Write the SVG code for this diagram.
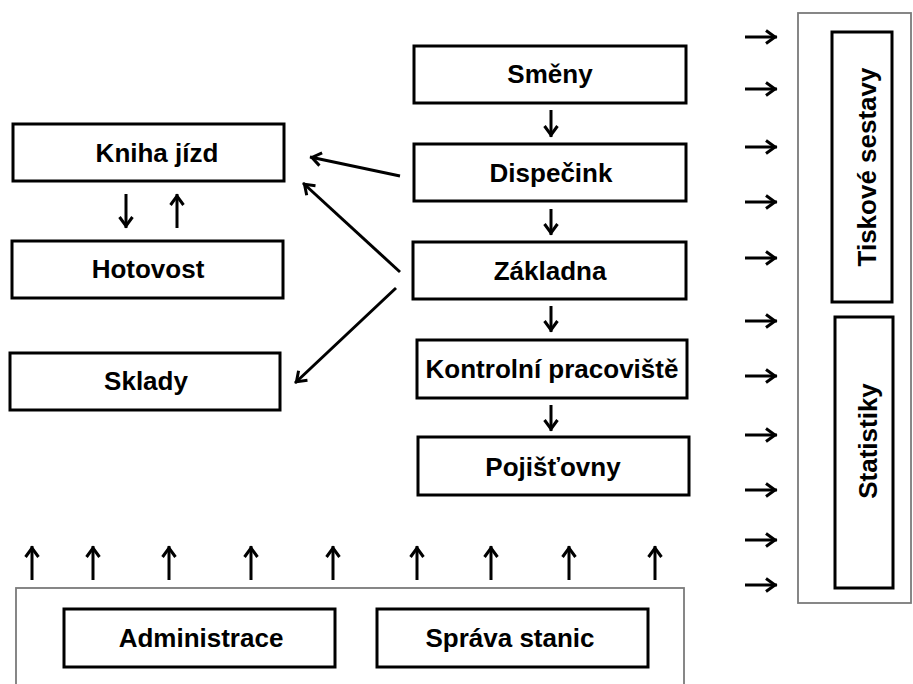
<svg xmlns="http://www.w3.org/2000/svg" width="913" height="684" viewBox="0 0 913 684">
  <defs>
    <marker id="ah" markerUnits="userSpaceOnUse" markerWidth="24" markerHeight="24" viewBox="-16 -12 24 24" refX="2" refY="0" orient="auto">
      <path d="M-9,-6.5 L0,0 L-9,6.5" fill="none" stroke="#000" stroke-width="3"/>
    </marker>
  </defs>
  <style>
    .box { fill: #fff; stroke: #000; stroke-width: 3; }
    .frame { fill: #fff; stroke: #7a7a7a; stroke-width: 1.8; }
    .lbl { font-family: "Liberation Sans", Arial, sans-serif; font-weight: bold; font-size: 26px; fill: #000; text-anchor: middle; }
    .arr { stroke: #000; stroke-width: 3; fill: none; marker-end: url(#ah); }
  </style>
  <rect width="913" height="684" fill="#fff"/>

  <!-- output panel on the right -->
  <g id="output-panel">
    <rect class="frame" x="798" y="13" width="113" height="590"/>
  </g>
  <g id="tiskove-sestavy">
    <rect class="box" x="832" y="32" width="60" height="270"/>
    <text class="lbl" transform="translate(876,167) rotate(-90)">Tiskové sestavy</text>
  </g>
  <g id="statistiky">
    <rect class="box" x="835" y="317" width="58" height="271"/>
    <text class="lbl" transform="translate(877,441) rotate(-90)">Statistiky</text>
  </g>

  <!-- base panel at the bottom -->
  <g id="base-panel">
    <rect class="frame" x="16" y="588" width="668" height="110"/>
  </g>
  <g id="administrace">
    <rect class="box" x="64" y="609" width="271" height="58"/>
    <text class="lbl" x="201" y="647">Administrace</text>
  </g>
  <g id="sprava-stanic">
    <rect class="box" x="377" y="609" width="271" height="58"/>
    <text class="lbl" x="510" y="647">Správa stanic</text>
  </g>

  <!-- left column -->
  <g id="kniha-jizd">
    <rect class="box" x="13" y="124" width="271" height="57"/>
    <text class="lbl" x="157" y="162">Kniha jízd</text>
  </g>
  <g id="hotovost">
    <rect class="box" x="12" y="241" width="271" height="57"/>
    <text class="lbl" x="148" y="278">Hotovost</text>
  </g>
  <g id="sklady">
    <rect class="box" x="10" y="353" width="270" height="57"/>
    <text class="lbl" x="146" y="390">Sklady</text>
  </g>

  <!-- central column -->
  <g id="smeny">
    <rect class="box" x="414" y="46" width="272" height="57"/>
    <text class="lbl" x="550" y="83">Směny</text>
  </g>
  <g id="dispecink">
    <rect class="box" x="414" y="144" width="272" height="57"/>
    <text class="lbl" x="551" y="182">Dispečink</text>
  </g>
  <g id="zakladna">
    <rect class="box" x="413" y="242" width="273" height="57"/>
    <text class="lbl" x="550" y="280">Základna</text>
  </g>
  <g id="kontrolni-pracoviste">
    <rect class="box" x="417" y="340" width="270" height="58"/>
    <text class="lbl" x="552" y="378">Kontrolní pracoviště</text>
  </g>
  <g id="pojistovny">
    <rect class="box" x="418" y="437" width="271" height="58"/>
    <text class="lbl" x="553" y="476">Pojišťovny</text>
  </g>

  <g id="connectors">
    <!-- central chain -->
    <line class="arr" x1="551" y1="110" x2="551" y2="137"/>
    <line class="arr" x1="551" y1="209" x2="551" y2="235"/>
    <line class="arr" x1="551" y1="306" x2="551" y2="332"/>
    <line class="arr" x1="551" y1="405" x2="551" y2="431"/>
    <!-- Kniha jízd / Hotovost -->
    <line class="arr" x1="126" y1="194" x2="126" y2="228"/>
    <line class="arr" x1="177" y1="228" x2="177" y2="194"/>
    <!-- diagonals to the left column -->
    <line class="arr" x1="400" y1="176" x2="310" y2="157"/>
    <line class="arr" x1="400" y1="272" x2="303" y2="183"/>
    <line class="arr" x1="396" y1="288" x2="295" y2="383"/>
    <!-- into the output panel -->
    <line class="arr" x1="745" y1="37" x2="777" y2="37"/>
    <line class="arr" x1="745" y1="89" x2="777" y2="89"/>
    <line class="arr" x1="745" y1="147" x2="777" y2="147"/>
    <line class="arr" x1="745" y1="202" x2="777" y2="202"/>
    <line class="arr" x1="745" y1="258" x2="777" y2="258"/>
    <line class="arr" x1="745" y1="321" x2="777" y2="321"/>
    <line class="arr" x1="745" y1="376" x2="777" y2="376"/>
    <line class="arr" x1="745" y1="435" x2="777" y2="435"/>
    <line class="arr" x1="745" y1="490" x2="777" y2="490"/>
    <line class="arr" x1="745" y1="540" x2="777" y2="540"/>
    <line class="arr" x1="745" y1="585" x2="777" y2="585"/>
    <!-- up from the base panel -->
    <line class="arr" x1="32" y1="580" x2="32" y2="546"/>
    <line class="arr" x1="93" y1="580" x2="93" y2="546"/>
    <line class="arr" x1="169" y1="580" x2="169" y2="546"/>
    <line class="arr" x1="251" y1="580" x2="251" y2="546"/>
    <line class="arr" x1="333" y1="580" x2="333" y2="546"/>
    <line class="arr" x1="417" y1="580" x2="417" y2="546"/>
    <line class="arr" x1="491" y1="580" x2="491" y2="546"/>
    <line class="arr" x1="569" y1="580" x2="569" y2="546"/>
    <line class="arr" x1="655" y1="580" x2="655" y2="546"/>
  </g>
</svg>
